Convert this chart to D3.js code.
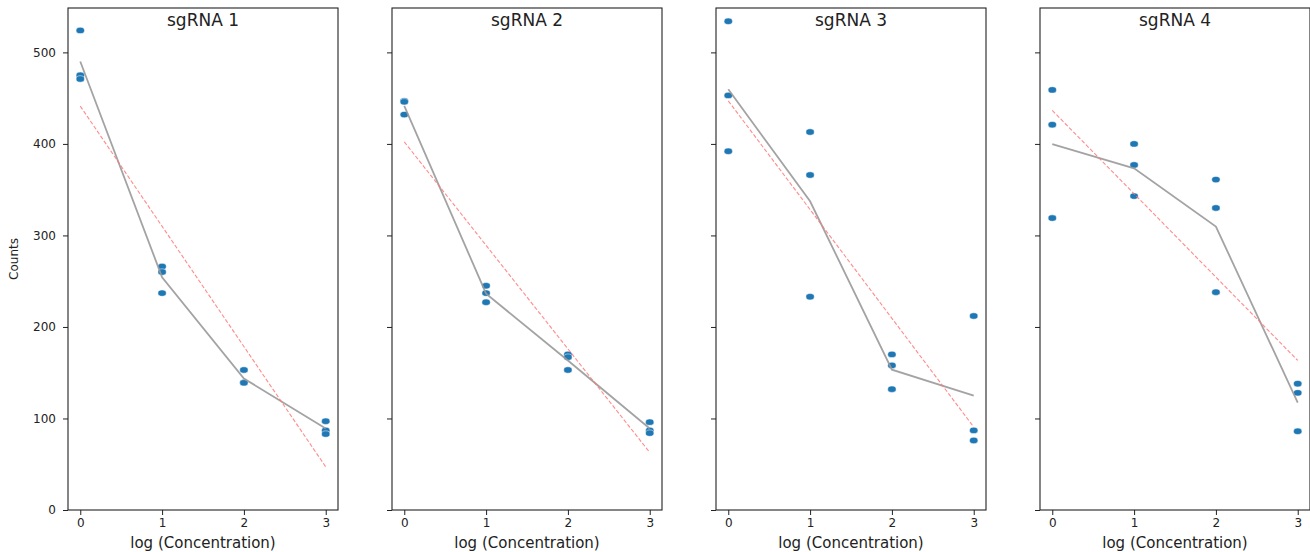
<!DOCTYPE html>
<html>
<head>
<meta charset="utf-8">
<script src="https://cdn.jsdelivr.net/npm/d3@7"></script>
<style>
  body { margin: 0; background: #fff; }
  svg { display: block; font-family: "DejaVu Sans", sans-serif; }
</style>
</head>
<body>
<svg id="chart" width="1310" height="552"></svg>
<script>
// ---- data ----
const panelTitles = ["sgRNA 1", "sgRNA 2", "sgRNA 3", "sgRNA 4"];
const concentrations = [0, 1, 2, 3]; // log (Concentration)
// replicate counts for each concentration, per sgRNA
const sg1 = [[524, 475, 471], [266, 260, 237], [153, 139, 139], [97, 87, 83]];
const sg2 = [[447, 446, 432], [245, 237, 227], [170, 167, 153], [96, 87, 84]];
const sg3 = [[534, 453, 392], [413, 366, 233], [170, 158, 132], [212, 87, 76]];
const sg4 = [[459, 421, 319], [400, 377, 343], [361, 330, 238], [138, 128, 86]];
const seriesValues = [sg1, sg2, sg3, sg4];
const yTicks = [0, 100, 200, 300, 400, 500];
const xTicks = [0, 1, 2, 3];
const xLabel = "log (Concentration)";
const yLabel = "Counts";

// ---- layout ----
const W = 1310, H = 552;
const panelW = 270, panelGap = 54, firstLeft = 68, plotTop = 8, plotBottom = 510;
const svg = d3.select("#chart");

const x = d3.scaleLinear().domain([-0.15, 3.15]).range([0, panelW]);
const y = d3.scaleLinear().domain([0, 548.5]).range([plotBottom - plotTop, 0]);

const blue = "#1f77b4";

function linFit(pts) {
  const mx = d3.mean(pts, d => d[0]), my = d3.mean(pts, d => d[1]);
  let sxy = 0, sxx = 0;
  pts.forEach(d => { sxy += (d[0] - mx) * (d[1] - my); sxx += (d[0] - mx) ** 2; });
  const b = sxy / sxx, a = my - b * mx;
  return xv => a + b * xv;
}

seriesValues.forEach((vals, i) => {
  const left = firstLeft + i * (panelW + panelGap);
  const g = svg.append("g").attr("transform", `translate(${left},${plotTop})`);

  const pts = [];
  vals.forEach((reps, j) => reps.forEach(v => pts.push([concentrations[j], v])));
  const means = vals.map((reps, j) => [concentrations[j], d3.mean(reps)]);
  const fit = linFit(pts);
  const xr = d3.extent(concentrations);
  const fitLine = [[xr[0], fit(xr[0])], [xr[1], fit(xr[1])]];

  // axes
  const yAxis = d3.axisLeft(y).tickValues(yTicks).tickSize(5).tickPadding(7);
  if (i > 0) yAxis.tickFormat("");
  const gy = g.append("g").call(yAxis);
  const gx = g.append("g").attr("transform", `translate(0,${plotBottom - plotTop})`)
    .call(d3.axisBottom(x).tickValues(xTicks).tickFormat(d3.format("d")).tickSize(5).tickPadding(3));
  [gx, gy].forEach(a => {
    a.select(".domain").remove();
    a.selectAll("line").attr("stroke", "#222");
    a.selectAll("text").attr("fill", "#222").style("font-size", "12px")
      .style("font-family", "DejaVu Sans, sans-serif");
  });

  // points
  g.append("g").selectAll("ellipse").data(pts).join("ellipse")
    .attr("cx", d => x(d[0])).attr("cy", d => y(d[1]))
    .attr("rx", 4.2).attr("ry", 3.2)
    .attr("fill", blue).attr("stroke", "#fff").attr("stroke-width", 0.5);

  // mean line
  g.append("path").datum(means)
    .attr("d", d3.line().x(d => x(d[0])).y(d => y(d[1])))
    .attr("fill", "none").attr("stroke", "#999").attr("stroke-opacity", 0.9).attr("stroke-width", 1.8);

  // regression line
  g.append("path").datum(fitLine)
    .attr("d", d3.line().x(d => x(d[0])).y(d => y(d[1])))
    .attr("fill", "none").attr("stroke", "#f77").attr("stroke-opacity", 0.85)
    .attr("stroke-width", 1.1).attr("stroke-dasharray", "4,2");

  // frame
  g.append("rect").attr("x", 0).attr("y", 0).attr("width", panelW).attr("height", plotBottom - plotTop)
    .attr("fill", "none").attr("stroke", "#222").attr("stroke-width", 1.1);

  // title
  g.append("text").attr("x", panelW / 2).attr("y", 18)
    .attr("text-anchor", "middle").attr("fill", "#222")
    .style("font-size", "17px").text(panelTitles[i]);

  // x label
  g.append("text").attr("x", panelW / 2).attr("y", H - plotTop - 4)
    .attr("text-anchor", "middle").attr("fill", "#222")
    .style("font-size", "15px").text(xLabel);
});

// y label
svg.append("text")
  .attr("transform", `translate(18,${(plotTop + plotBottom) / 2}) rotate(-90)`)
  .attr("text-anchor", "middle").attr("fill", "#222")
  .style("font-size", "12px").text(yLabel);
</script>
</body>
</html>
